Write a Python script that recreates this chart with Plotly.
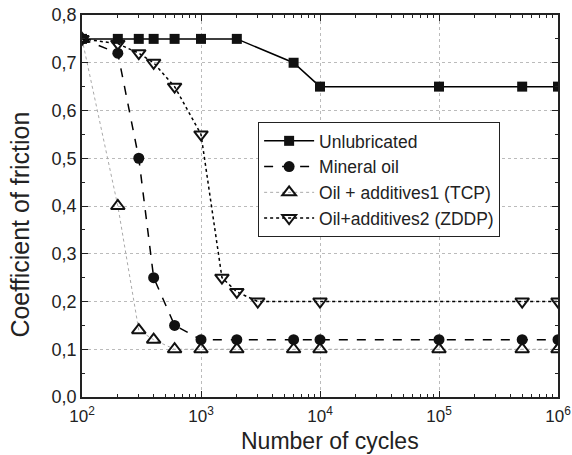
import plotly.graph_objects as go

cycles_unlub = [100, 200, 300, 400, 600, 1000, 2000, 6000, 10000, 100000, 500000, 1000000]
cof_unlub = [0.75, 0.75, 0.75, 0.75, 0.75, 0.75, 0.75, 0.70, 0.65, 0.65, 0.65, 0.65]

cycles_mineral = [100, 200, 300, 400, 600, 1000, 2000, 6000, 10000, 100000, 500000, 1000000]
cof_mineral = [0.75, 0.72, 0.50, 0.25, 0.15, 0.12, 0.12, 0.12, 0.12, 0.12, 0.12, 0.12]

cycles_tcp = [100, 200, 300, 400, 600, 1000, 2000, 6000, 10000, 100000, 500000, 1000000]
cof_tcp = [0.75, 0.40, 0.14, 0.12, 0.10, 0.10, 0.10, 0.10, 0.10, 0.10, 0.10, 0.10]

cycles_zddp = [100, 200, 300, 400, 600, 1000, 1500, 2000, 3000, 10000, 500000, 1000000]
cof_zddp = [0.75, 0.74, 0.72, 0.70, 0.65, 0.55, 0.25, 0.22, 0.20, 0.20, 0.20, 0.20]

x_tickvals = [100, 1000, 10000, 100000, 1000000]
x_ticktext = ["10<sup>2</sup>", "10<sup>3</sup>", "10<sup>4</sup>", "10<sup>5</sup>", "10<sup>6</sup>"]

x_title = "Number of cycles"
y_title = "Coefficient of friction"

fig = go.Figure()
fig.add_trace(go.Scatter(x=cycles_unlub, y=cof_unlub, name="Unlubricated", mode="lines+markers",
                         line=dict(color="black", width=1.5),
                         marker=dict(symbol="square", size=10, color="#111111")))
fig.add_trace(go.Scatter(x=cycles_mineral, y=cof_mineral, name="Mineral oil", mode="lines+markers",
                         line=dict(color="black", width=1.5, dash="dash"),
                         marker=dict(symbol="circle", size=11, color="#111111")))
fig.add_trace(go.Scatter(x=cycles_tcp, y=cof_tcp, name="Oil + additives1 (TCP)", mode="lines+markers",
                         line=dict(color="#aaaaaa", width=1, dash="dot"),
                         marker=dict(symbol="triangle-up-open", size=12, color="#111111",
                                     line=dict(width=2, color="#111111"))))
fig.add_trace(go.Scatter(x=cycles_zddp, y=cof_zddp, name="Oil+additives2 (ZDDP)", mode="lines+markers",
                         line=dict(color="black", width=1.5, dash="dot"),
                         marker=dict(symbol="triangle-down-open", size=12, color="#111111",
                                     line=dict(width=2, color="#111111"))))

minor_x = [m * 10 ** e for e in range(2, 6) for m in range(2, 10)]

fig.update_layout(
    width=572, height=455,
    margin=dict(l=82, r=14, t=15, b=58),
    paper_bgcolor="white", plot_bgcolor="white",
    font=dict(family="Liberation Sans, Arial, sans-serif", color="#222222", size=17),
    separators=", ",
    showlegend=True,
    legend=dict(x=0.37, y=0.72, xanchor="left", yanchor="top",
                bgcolor="white", bordercolor="#222222", borderwidth=1,
                font=dict(size=17.5), tracegroupgap=0, itemwidth=50),
    annotations=[
        dict(text=x_title, xref="paper", yref="paper", x=0.521, y=-0.1152,
             xanchor="center", yanchor="middle", showarrow=False, font=dict(size=23)),
        dict(text=y_title, xref="paper", yref="paper", x=-0.130, y=0.4516, textangle=-90,
             xanchor="center", yanchor="middle", showarrow=False, font=dict(size=25)),
    ],
)
fig.update_xaxes(
    type="log", range=[2, 6], automargin=False,
    tickmode="array", tickvals=x_tickvals, ticktext=x_ticktext,
    ticks="inside", ticklen=6, tickwidth=1.2, tickcolor="#222222",
    showline=True, linecolor="#222222", linewidth=1.5, mirror="allticks",
    showgrid=True, gridcolor="#bbbbbb", griddash="dot", gridwidth=1,
    tickfont=dict(size=17), ticklabelstandoff=3,
    minor=dict(tickmode="array", tickvals=minor_x, ticks="inside", ticklen=3,
               tickcolor="#222222", showgrid=False),
    zeroline=False,
)
fig.update_yaxes(
    range=[0, 0.8], dtick=0.1, tick0=0, tickformat=".1f", automargin=False,
    ticks="inside", ticklen=6, tickwidth=1.2, tickcolor="#222222",
    showline=True, linecolor="#222222", linewidth=1.5, mirror="allticks",
    showgrid=True, gridcolor="#bbbbbb", griddash="dot", gridwidth=1,
    tickfont=dict(size=18),
    minor=dict(dtick=0.05, ticks="inside", ticklen=3, tickcolor="#222222", showgrid=False),
    zeroline=False,
)

fig.write_html("out.html")
